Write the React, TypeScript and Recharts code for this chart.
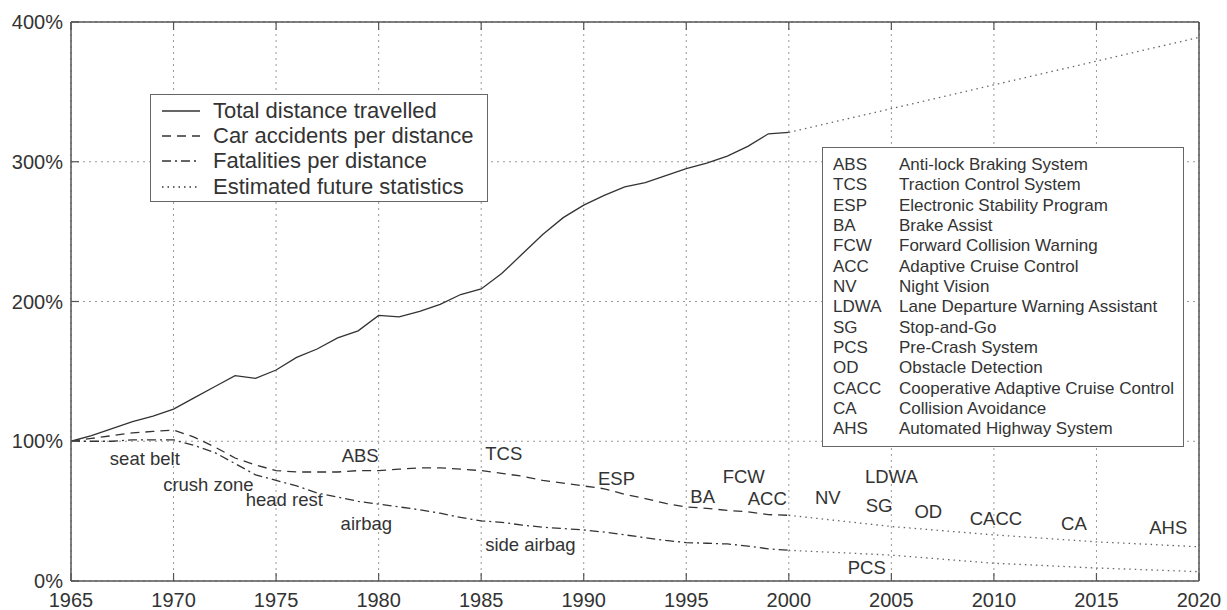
import { CartesianGrid, Legend, Line, LineChart, ReferenceDot, XAxis, YAxis } from "recharts";

const FONT = "'Liberation Sans', Arial, Helvetica, sans-serif";
const INK = "#333";
const FRAME = "#555";

// measured history, 1965..2000 (percent of 1965 level)
const years = [
  1965, 1966, 1967, 1968, 1969, 1970, 1971, 1972, 1973, 1974, 1975, 1976,
  1977, 1978, 1979, 1980, 1981, 1982, 1983, 1984, 1985, 1986, 1987, 1988,
  1989, 1990, 1991, 1992, 1993, 1994, 1995, 1996, 1997, 1998, 1999, 2000,
];
const totalDistance = [
  100, 104, 109, 114, 118, 123, 131, 139, 147, 145, 151, 160,
  166, 174, 179, 190, 189, 193, 198, 205, 209, 220, 234, 248,
  260, 269, 276, 282, 285, 290, 295, 299, 304, 311, 320, 321,
];
const carAccidents = [
  100, 102, 104, 106, 107, 108, 103, 96, 88, 83, 79, 78,
  78, 78, 79, 79, 80, 81, 81, 80, 79, 77, 75, 72,
  70, 68, 66, 62, 59, 55.5, 53, 52, 50.5, 49.5, 47.5, 47,
];
const fatalities = [
  100, 100, 100, 101, 101, 101, 97, 92, 84, 76, 72, 68,
  63, 60, 57, 55, 53, 51, 48.5, 45.5, 43, 42, 40, 38.5,
  37.5, 36.5, 35, 33, 31, 29, 27.5, 27, 26.5, 25, 23, 22,
];

// estimated future statistics
const futureYears = [2000, 2005, 2010, 2015, 2020];
const futureDistance = [321, 338, 355, 372, 389];
const futureAccidents = [47, 39, 33, 28, 24.5];
const futureFatalities = [22, 18.5, 12.7, 9.3, 6.7];

const xTicks = [1965, 1970, 1975, 1980, 1985, 1990, 1995, 2000, 2005, 2010, 2015, 2020];
const yTicks = [0, 100, 200, 300, 400];

// technology annotations: label, year, percent
const techLabels = [
  "seat belt", "crush zone", "head rest", "airbag", "ABS", "TCS", "ESP", "BA", "FCW",
  "ACC", "NV", "side airbag", "LDWA", "SG", "OD", "CACC", "CA", "AHS", "PCS",
];
const techYears = [
  1968.6, 1971.7, 1975.4, 1979.4, 1979.1, 1986.1, 1991.6, 1995.8, 1997.8,
  1998.95, 2001.9, 1987.4, 2005, 2004.4, 2006.8, 2010.1, 2013.9, 2018.5, 2003.8,
];
const techValues = [
  88, 68.7, 58, 41.5, 90, 91, 73.7, 60.8, 75,
  58.7, 59.4, 25.8, 75, 53.7, 49.4, 45, 41.5, 38, 10,
];

const abbrevs = ["ABS", "TCS", "ESP", "BA", "FCW", "ACC", "NV", "LDWA", "SG", "PCS", "OD", "CACC", "CA", "AHS"];
const abbrevNames = [
  "Anti-lock Braking System",
  "Traction Control System",
  "Electronic Stability Program",
  "Brake Assist",
  "Forward Collision Warning",
  "Adaptive Cruise Control",
  "Night Vision",
  "Lane Departure Warning Assistant",
  "Stop-and-Go",
  "Pre-Crash System",
  "Obstacle Detection",
  "Cooperative Adaptive Cruise Control",
  "Collision Avoidance",
  "Automated Highway System",
];

const DASH_DASHED = "9 6";
const DASH_DOTDASH = "9 4 2 4";
const DASH_DOTTED = "1.5 4";

const legendOrder = [
  "Total distance travelled",
  "Car accidents per distance",
  "Fatalities per distance",
  "Estimated future statistics",
];
const legendDash: Record<string, string | undefined> = {
  "Total distance travelled": undefined,
  "Car accidents per distance": DASH_DASHED,
  "Fatalities per distance": DASH_DOTDASH,
  "Estimated future statistics": DASH_DOTTED,
};

type Row = Record<string, number | undefined>;
const rows: Row[] = years.map((yr, i) => ({
  year: yr,
  distance: totalDistance[i],
  accidents: carAccidents[i],
  fatalities: fatalities[i],
}));
futureYears.forEach((yr, i) => {
  let row = rows.find((r) => r.year === yr);
  if (!row) {
    row = { year: yr };
    rows.push(row);
  }
  row.fDistance = futureDistance[i];
  row.fAccidents = futureAccidents[i];
  row.fFatalities = futureFatalities[i];
});

const SeriesLegend = (props: any) => {
  const names = (props.payload || []).map((p: any) => p.value);
  const items = legendOrder.filter((n) => names.includes(n));
  return (
    <div
      style={{
        width: 338,
        height: 108,
        boxSizing: "border-box",
        border: "1.5px solid #666",
        background: "#fff",
        padding: "3px 0 0 10px",
        fontFamily: FONT,
        fontSize: 22,
        color: INK,
      }}
    >
      {items.map((name) => (
        <div key={name} style={{ display: "flex", alignItems: "center", height: 25.3 }}>
          <svg width={40} height={10} style={{ marginRight: 12 }}>
            <line x1={1} x2={39} y1={5} y2={5} stroke={INK} strokeWidth={1.3} strokeDasharray={legendDash[name]} />
          </svg>
          <span style={{ whiteSpace: "nowrap" }}>{name}</span>
        </div>
      ))}
    </div>
  );
};

const TechLabel = (label: string) => (props: any) => (
  <text
    x={props.cx}
    y={props.cy}
    textAnchor="middle"
    dominantBaseline="central"
    fontSize={18.5}
    fill={INK}
    fontFamily={FONT}
  >
    {label}
  </text>
);

const axisLine = { stroke: FRAME, strokeWidth: 1.5 };
const tickLine = { stroke: FRAME, strokeWidth: 1.2 };
const noLabel = () => "";

export default function App() {
  return (
    <div style={{ position: "absolute", left: 0, top: 0, width: 1227, height: 610, background: "#fff" }}>
      <LineChart
        width={1227}
        height={610}
        data={rows}
        margin={{ top: 20, right: 26, bottom: 0, left: 0 }}
        style={{ fontFamily: FONT }}
      >
        <CartesianGrid stroke="#999" strokeDasharray="2 4" strokeWidth={1} />
        <XAxis
          dataKey="year"
          type="number"
          domain={[1965, 2020]}
          ticks={xTicks}
          interval={0}
          height={29}
          tickSize={-8}
          tickMargin={20}
          tick={{ fontSize: 20, fill: INK, fontFamily: FONT }}
          tickLine={tickLine}
          axisLine={axisLine}
        />
        <XAxis
          xAxisId="top"
          orientation="top"
          dataKey="year"
          type="number"
          domain={[1965, 2020]}
          ticks={xTicks}
          interval={0}
          height={2}
          tickSize={-8}
          tickFormatter={noLabel}
          tickLine={tickLine}
          axisLine={axisLine}
        />
        <YAxis
          type="number"
          domain={[0, 400]}
          ticks={yTicks}
          interval={0}
          width={71}
          tickSize={-8}
          tickMargin={16}
          tickFormatter={(v: number) => `${v}%`}
          tick={{ fontSize: 20, fill: INK, fontFamily: FONT }}
          tickLine={tickLine}
          axisLine={axisLine}
        />
        <YAxis
          yAxisId="right"
          orientation="right"
          type="number"
          domain={[0, 400]}
          ticks={yTicks}
          interval={0}
          width={2}
          tickSize={-8}
          tickFormatter={noLabel}
          tickLine={tickLine}
          axisLine={axisLine}
        />
        <Legend
          layout="vertical"
          align="center"
          verticalAlign="middle"
          content={<SeriesLegend />}
          wrapperStyle={{ left: 150, top: 94, width: 338, height: 108 }}
        />
        <Line
          dataKey="distance"
          name="Total distance travelled"
          type="linear"
          stroke={INK}
          strokeWidth={1.3}
          dot={false}
          isAnimationActive={false}
        />
        <Line
          dataKey="accidents"
          name="Car accidents per distance"
          type="linear"
          stroke={INK}
          strokeWidth={1.3}
          strokeDasharray={DASH_DASHED}
          dot={false}
          isAnimationActive={false}
        />
        <Line
          dataKey="fatalities"
          name="Fatalities per distance"
          type="linear"
          stroke={INK}
          strokeWidth={1.3}
          strokeDasharray={DASH_DOTDASH}
          dot={false}
          isAnimationActive={false}
        />
        <Line
          dataKey="fDistance"
          name="Estimated future statistics"
          type="linear"
          stroke="#666"
          strokeWidth={1.3}
          strokeDasharray={DASH_DOTTED}
          dot={false}
          connectNulls
          isAnimationActive={false}
        />
        <Line
          dataKey="fAccidents"
          name="Estimated accidents"
          legendType="none"
          type="linear"
          stroke="#666"
          strokeWidth={1.3}
          strokeDasharray={DASH_DOTTED}
          dot={false}
          connectNulls
          isAnimationActive={false}
        />
        <Line
          dataKey="fFatalities"
          name="Estimated fatalities"
          legendType="none"
          type="linear"
          stroke="#666"
          strokeWidth={1.3}
          strokeDasharray={DASH_DOTTED}
          dot={false}
          connectNulls
          isAnimationActive={false}
        />
        {techLabels.map((label, i) => (
          <ReferenceDot
            key={label}
            x={techYears[i]}
            y={techValues[i]}
            r={0}
            shape={TechLabel(label)}
          />
        ))}
      </LineChart>
      <div
        style={{
          position: "absolute",
          left: 822,
          top: 147,
          width: 362,
          height: 300,
          boxSizing: "border-box",
          border: "1.5px solid #666",
          background: "#fff",
          padding: "7px 0 0 10px",
          fontFamily: FONT,
          fontSize: 17,
          color: INK,
        }}
      >
        {abbrevs.map((ab, i) => (
          <div key={ab} style={{ display: "flex", height: 20.33, lineHeight: "20.33px", whiteSpace: "nowrap" }}>
            <span style={{ width: 66 }}>{ab}</span>
            <span>{abbrevNames[i]}</span>
          </div>
        ))}
      </div>
    </div>
  );
}
